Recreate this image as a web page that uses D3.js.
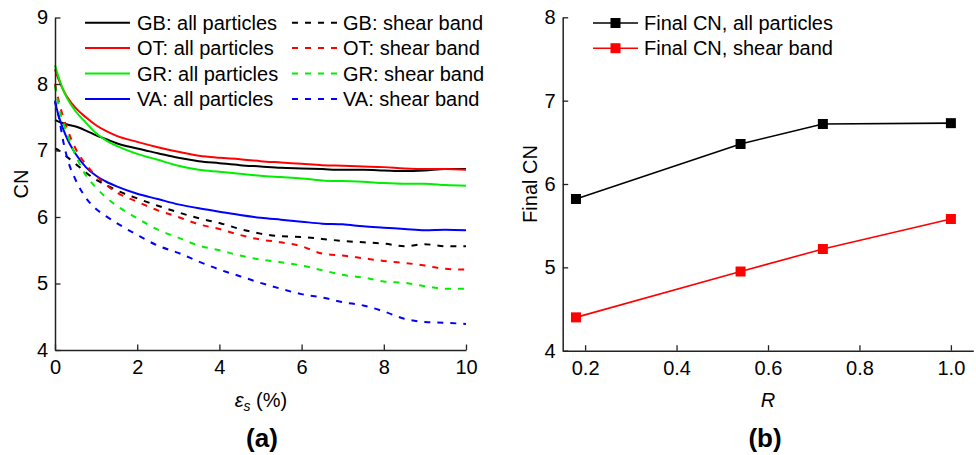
<!DOCTYPE html>
<html>
<head>
<meta charset="utf-8">
<script src="https://cdn.jsdelivr.net/npm/d3@7"></script>
<style>
  body { margin: 0; background: #fff; }
  text { font-family: "Liberation Sans", Arial, sans-serif; }
</style>
</head>
<body>
<div id="container"></div>
<script>
let w = 976;
let h = 455;

// ---- data, panel (a) ----
let strain = [0, 0.1, 0.2, 0.3, 0.5, 0.75, 1, 1.25, 1.5, 2, 2.5, 3, 3.5, 4, 4.5, 5, 5.5, 6, 6.5, 7, 7.5, 8, 8.5, 9, 9.5, 10];
let gbAll   = [7.46, 7.43, 7.41, 7.39, 7.36, 7.30, 7.23, 7.17, 7.11, 7.03, 6.96, 6.89, 6.84, 6.81, 6.78, 6.76, 6.74, 6.73, 6.72, 6.71, 6.71, 6.70, 6.69, 6.70, 6.72, 6.72];
let otAll   = [8.22, 8.05, 7.91, 7.80, 7.64, 7.50, 7.38, 7.29, 7.22, 7.13, 7.05, 6.98, 6.92, 6.89, 6.87, 6.84, 6.82, 6.80, 6.78, 6.77, 6.76, 6.75, 6.73, 6.72, 6.72, 6.71];
let grAll   = [8.28, 8.08, 7.91, 7.78, 7.59, 7.42, 7.26, 7.15, 7.07, 6.95, 6.86, 6.77, 6.71, 6.68, 6.65, 6.62, 6.60, 6.58, 6.55, 6.54, 6.53, 6.51, 6.50, 6.50, 6.48, 6.47];
let vaAll   = [7.73, 7.50, 7.32, 7.17, 6.95, 6.75, 6.62, 6.53, 6.46, 6.35, 6.27, 6.19, 6.13, 6.08, 6.03, 5.99, 5.96, 5.93, 5.90, 5.89, 5.86, 5.84, 5.82, 5.80, 5.81, 5.80];
let gbBand  = [7.03, 7.00, 6.95, 6.90, 6.80, 6.67, 6.56, 6.48, 6.40, 6.28, 6.17, 6.07, 5.98, 5.91, 5.82, 5.75, 5.71, 5.70, 5.67, 5.64, 5.62, 5.60, 5.56, 5.59, 5.56, 5.56];
let otBand  = [8.00, 7.72, 7.50, 7.32, 7.03, 6.79, 6.62, 6.48, 6.37, 6.23, 6.10, 6.00, 5.89, 5.82, 5.73, 5.66, 5.62, 5.56, 5.45, 5.42, 5.38, 5.34, 5.31, 5.27, 5.22, 5.21];
let grBand  = [7.98, 7.64, 7.42, 7.24, 6.93, 6.63, 6.44, 6.29, 6.17, 5.98, 5.81, 5.69, 5.57, 5.50, 5.42, 5.36, 5.32, 5.27, 5.20, 5.13, 5.09, 5.03, 5.01, 4.96, 4.92, 4.92];
let vaBand  = [7.75, 7.48, 7.14, 6.88, 6.56, 6.29, 6.12, 6.01, 5.91, 5.73, 5.57, 5.46, 5.33, 5.21, 5.11, 5.01, 4.92, 4.84, 4.79, 4.72, 4.67, 4.58, 4.47, 4.42, 4.41, 4.39];

let seriesNames = ["GB", "OT", "GR", "VA"];
let seriesColors = ["#000000", "#ff0000", "#00ee00", "#0000ff"];
let allSeries = [gbAll, otAll, grAll, vaAll];
let bandSeries = [gbBand, otBand, grBand, vaBand];

// ---- data, panel (b) ----
let ratio = [0.18, 0.54, 0.72, 1.0];
let finalAll  = [5.82, 6.48, 6.72, 6.73];
let finalBand = [4.40, 4.95, 5.22, 5.58];

let viz = d3.select("#container")
  .append("svg")
    .attr("width", w)
    .attr("height", h)
    .style("background-color", "white");

let fontSize = 20;

// draw L-shaped axes with inward ticks
function drawAxes(g, x, y, xMajor, yMajor, xMinor, yMinor, xFmt, yFmt){
  let y0 = y.range()[0];
  let x0 = x.range()[0];

  let bx = g.append("g").attr("transform", "translate(0," + y0 + ")");
  bx.call(d3.axisBottom(x).tickValues(xMinor).tickSize(-3).tickSizeOuter(0).tickFormat(""));
  bx.call(d3.axisBottom(x).tickValues(xMajor).tickSizeInner(-5.5).tickSizeOuter(0).tickPadding(10).tickFormat(xFmt));

  let ly = g.append("g").attr("transform", "translate(" + x0 + ",0)");
  ly.call(d3.axisLeft(y).tickValues(yMinor).tickSize(-3).tickSizeOuter(0).tickFormat(""));
  ly.call(d3.axisLeft(y).tickValues(yMajor).tickSizeInner(-5.5).tickSizeOuter(0).tickPadding(7).tickFormat(yFmt));

  g.selectAll(".domain").attr("stroke", "#222").attr("stroke-width", 1.5);
  g.selectAll(".tick line").attr("stroke", "#222").attr("stroke-width", 1.3);
  g.selectAll(".tick text").style("font-size", fontSize + "px").attr("fill", "#000")
    .style("font-family", "'Liberation Sans', Arial, sans-serif");
}

// ================= panel (a) =================
let xA = d3.scaleLinear().domain([0, 10]).range([55, 466]);
let yA = d3.scaleLinear().domain([4, 9]).range([350, 17.5]);

let panelA = viz.append("g");

let lineA = d3.line()
  .x(d => xA(d[0]))
  .y(d => yA(d[1]))
  .curve(d3.curveMonotoneX);

let dashes = "6,7";

allSeries.forEach(function(s, i){
  panelA.append("path")
    .datum(strain.map((e, k) => [e, s[k]]))
    .attr("d", lineA)
    .attr("fill", "none")
    .attr("stroke", seriesColors[i])
    .attr("stroke-width", 2);
});
bandSeries.forEach(function(s, i){
  panelA.append("path")
    .datum(strain.map((e, k) => [e, s[k]]))
    .attr("d", lineA)
    .attr("fill", "none")
    .attr("stroke", seriesColors[i])
    .attr("stroke-width", 2)
    .attr("stroke-dasharray", dashes);
});

drawAxes(panelA, xA, yA,
  [0, 2, 4, 6, 8, 10], [4, 5, 6, 7, 8, 9],
  [1, 3, 5, 7, 9], [4.5, 5.5, 6.5, 7.5, 8.5],
  d3.format("d"), d3.format("d"));

// legend (a)
let legA = panelA.append("g");
seriesNames.forEach(function(n, i){
  let cy = 22.7 + i * 25.4;
  legA.append("line").attr("x1", 85).attr("x2", 130).attr("y1", cy).attr("y2", cy)
    .attr("stroke", seriesColors[i]).attr("stroke-width", 2);
  legA.append("text").attr("x", 137).attr("y", cy + 7).style("font-size", fontSize + "px")
    .text(n + ": all particles");
  legA.append("line").attr("x1", 292).attr("x2", 338).attr("y1", cy).attr("y2", cy)
    .attr("stroke", seriesColors[i]).attr("stroke-width", 2).attr("stroke-dasharray", dashes);
  legA.append("text").attr("x", 343).attr("y", cy + 7).style("font-size", fontSize + "px")
    .text(n + ": shear band");
});

panelA.append("text")
  .attr("transform", "translate(28,184) rotate(-90)")
  .attr("text-anchor", "middle")
  .style("font-size", fontSize + "px")
  .text("CN");

let xlabA = panelA.append("text")
  .attr("x", 261).attr("y", 407)
  .attr("text-anchor", "middle")
  .style("font-size", fontSize + "px");
xlabA.append("tspan").style("font-style", "italic").text("ε");
xlabA.append("tspan").style("font-style", "italic").style("font-size", "14px").attr("dy", 4).text("s");
xlabA.append("tspan").attr("dy", -4).text(" (%)");

panelA.append("text")
  .attr("x", 262).attr("y", 447)
  .attr("text-anchor", "middle")
  .style("font-size", "26px").style("font-weight", "bold")
  .text("(a)");

// ================= panel (b) =================
let xB = d3.scaleLinear().domain([0.151, 1.049]).range([562.7, 973.3]);
let yB = d3.scaleLinear().domain([4, 8]).range([350.7, 17.3]);

let panelB = viz.append("g");

drawAxes(panelB, xB, yB,
  [0.2, 0.4, 0.6, 0.8, 1.0], [4, 5, 6, 7, 8],
  [0.3, 0.5, 0.7, 0.9], [4.5, 5.5, 6.5, 7.5],
  d3.format(".1f"), d3.format("d"));

let lineB = d3.line().x(d => xB(d[0])).y(d => yB(d[1]));
let bSeries = [finalAll, finalBand];
let bColors = ["#000000", "#ff0000"];
let bNames = ["Final CN, all particles", "Final CN, shear band"];
let ms = 10;

bSeries.forEach(function(s, i){
  let pts = ratio.map((r, k) => [r, s[k]]);
  panelB.append("path")
    .datum(pts)
    .attr("d", lineB)
    .attr("fill", "none")
    .attr("stroke", bColors[i])
    .attr("stroke-width", 1.6);
  panelB.selectAll(".m" + i).data(pts).enter()
    .append("rect")
      .attr("class", "m" + i)
      .attr("x", d => xB(d[0]) - ms / 2)
      .attr("y", d => yB(d[1]) - ms / 2)
      .attr("width", ms)
      .attr("height", ms)
      .attr("fill", bColors[i]);
});

// legend (b)
bNames.forEach(function(n, i){
  let cy = 23 + i * 25.2;
  panelB.append("line").attr("x1", 593).attr("x2", 638).attr("y1", cy).attr("y2", cy)
    .attr("stroke", bColors[i]).attr("stroke-width", 1.6);
  panelB.append("rect").attr("x", 615.5 - ms / 2).attr("y", cy - ms / 2)
    .attr("width", ms).attr("height", ms).attr("fill", bColors[i]);
  panelB.append("text").attr("x", 644).attr("y", cy + 7).style("font-size", fontSize + "px")
    .text(n);
});

panelB.append("text")
  .attr("transform", "translate(537,184) rotate(-90)")
  .attr("text-anchor", "middle")
  .style("font-size", fontSize + "px")
  .text("Final CN");

panelB.append("text")
  .attr("x", 768).attr("y", 407)
  .attr("text-anchor", "middle")
  .style("font-size", fontSize + "px").style("font-style", "italic")
  .text("R");

panelB.append("text")
  .attr("x", 765).attr("y", 447)
  .attr("text-anchor", "middle")
  .style("font-size", "26px").style("font-weight", "bold")
  .text("(b)");
</script>
</body>
</html>
